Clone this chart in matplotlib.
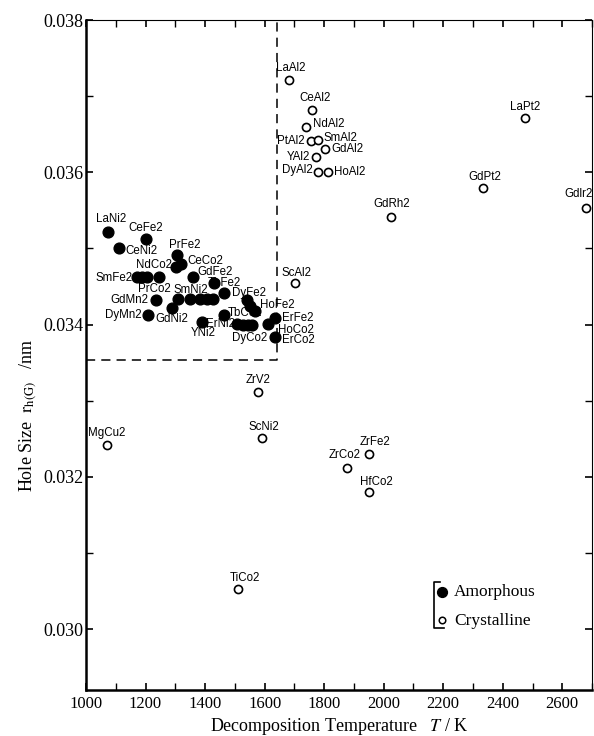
import matplotlib

matplotlib.use('agg')
import matplotlib.pyplot as plt
from matplotlib.ticker import MultipleLocator, FormatStrFormatter

# amorphous alloys (filled), T in K, r in nm
amo_names = ['LaNi2', 'CeFe2', 'CeNi2', 'PrFe2', 'CeCo2', 'NdCo2', 'SmFe2', '', '',
             'PrCo2', 'GdFe2', 'TbFe2', 'DyFe2', 'GdMn2', 'SmNi2', '', '', '', '',
             'DyMn2', 'GdNi2', 'YNi2', 'TbCo2', '', '', 'HoFe2', 'ErNi2', '', '',
             'DyCo2', 'HoCo2', 'ErFe2', 'ErCo2']
amo_T = [1074, 1202, 1111, 1306, 1319, 1302, 1171, 1188, 1205,
         1245, 1360, 1430, 1464, 1235, 1309, 1350, 1383, 1407, 1427,
         1208, 1289, 1390, 1464, 1541, 1551, 1568, 1508, 1528, 1544,
         1558, 1612, 1635, 1635]
amo_r = [0.03522, 0.03513, 0.03500, 0.03492, 0.03480, 0.03476, 0.03462, 0.03462, 0.03462,
         0.03463, 0.03462, 0.03454, 0.03442, 0.03432, 0.03433, 0.03433, 0.03433, 0.03433, 0.03433,
         0.03413, 0.03422, 0.03403, 0.03413, 0.03432, 0.03425, 0.03418, 0.03401, 0.03400, 0.03400,
         0.03400, 0.03401, 0.03409, 0.03383]

# crystalline compounds (open)
cry_names = ['LaAl2', 'CeAl2', 'NdAl2', 'PtAl2', 'SmAl2', 'GdAl2', 'YAl2', 'DyAl2', 'HoAl2',
             'LaPt2', 'GdPt2', 'GdRh2', 'Gdlr2', 'ScAl2', 'ZrV2', 'ScNi2', 'ZrFe2', 'ZrCo2',
             'HfCo2', 'TiCo2', 'MgCu2']
cry_T = [1682, 1760, 1739, 1756, 1780, 1803, 1773, 1780, 1813,
         2475, 2334, 2025, 2681, 1702, 1578, 1592, 1951, 1877,
         1951, 1511, 1071]
cry_r = [0.03721, 0.03682, 0.03659, 0.03641, 0.03643, 0.03630, 0.03620, 0.03600, 0.03600,
         0.03671, 0.03580, 0.03541, 0.03553, 0.03454, 0.03311, 0.03251, 0.03230, 0.03212,
         0.03180, 0.03053, 0.03242]

# boundary of the amorphous-forming region
bound_T = 1640
bound_r = 0.03353

# label placement: (dx, dy in pixels, horizontal alignment)
amo_lab = {
    'LaNi2': (3, 13, 'center'), 'CeFe2': (0, 11, 'center'), 'CeNi2': (6, -3, 'left'),
    'PrFe2': (8, 10, 'center'), 'CeCo2': (6, 3, 'left'), 'NdCo2': (-4, 2, 'right'),
    'SmFe2': (-4, -1, 'right'), 'PrCo2': (-5, -12, 'center'), 'GdFe2': (4, 5, 'left'),
    'TbFe2': (-6, 0, 'left'), 'DyFe2': (8, 0, 'left'), 'GdMn2': (-8, 0, 'right'),
    'SmNi2': (13, 9, 'center'), 'DyMn2': (-6, 0, 'right'), 'GdNi2': (0, -11, 'center'),
    'YNi2': (1, -11, 'center'), 'TbCo2': (4, 2, 'left'), 'HoFe2': (5, 6, 'left'),
    'ErNi2': (-2, 0, 'right'), 'DyCo2': (-2, -13, 'center'), 'HoCo2': (10, -6, 'left'),
    'ErFe2': (7, 0, 'left'), 'ErCo2': (7, -3, 'left'),
}
cry_lab = {
    'LaAl2': (-13, 12, 'left'), 'CeAl2': (-13, 12, 'left'), 'NdAl2': (7, 3, 'left'),
    'PtAl2': (-6, 0, 'right'), 'SmAl2': (5, 2, 'left'), 'GdAl2': (6, 0, 'left'),
    'YAl2': (-6, 0, 'right'), 'DyAl2': (-5, 2, 'right'), 'HoAl2': (6, 0, 'left'),
    'LaPt2': (0, 11, 'center'), 'GdPt2': (2, 11, 'center'), 'GdRh2': (1, 13, 'center'),
    'Gdlr2': (6, 14, 'right'), 'ScAl2': (2, 10, 'center'), 'ZrV2': (0, 12, 'center'),
    'ScNi2': (2, 11, 'center'), 'ZrFe2': (6, 12, 'center'), 'ZrCo2': (-2, 13, 'center'),
    'HfCo2': (7, 10, 'center'), 'TiCo2': (7, 11, 'center'), 'MgCu2': (0, 12, 'center'),
}

serif = 'Liberation Serif'
sans = 'Liberation Sans'
plt.rcParams['mathtext.fontset'] = 'stix'

fig = plt.figure(figsize=(5.94, 7.36), dpi=100)
ax = fig.add_axes([0.1448, 0.0625, 0.8519, 0.9103])

ax.plot([1000, bound_T, bound_T], [bound_r, bound_r, 0.038], color='black',
        linestyle=(0, (6, 4)), linewidth=1.1, zorder=1)

ax.scatter(amo_T, amo_r, s=60, color='black', zorder=3, clip_on=False)
ax.scatter(cry_T, cry_r, s=34, facecolors='white', edgecolors='black',
           linewidths=1.2, zorder=3, clip_on=False)

for name, t, r in zip(amo_names, amo_T, amo_r):
    if name in amo_lab:
        dx, dy, ha = amo_lab[name]
        ax.annotate(name, (t, r), xytext=(dx, dy), textcoords='offset pixels',
                    ha=ha, va='center', fontsize=8.3, family=sans, zorder=4)
for name, t, r in zip(cry_names, cry_T, cry_r):
    dx, dy, ha = cry_lab[name]
    ax.annotate(name, (t, r), xytext=(dx, dy), textcoords='offset pixels',
                ha=ha, va='center', fontsize=8.3, family=sans, zorder=4)

ax.set_xlim(1000, 2700)
ax.set_ylim(0.0292, 0.038)
ax.xaxis.set_major_locator(MultipleLocator(200))
ax.xaxis.set_minor_locator(MultipleLocator(100))
ax.yaxis.set_major_locator(MultipleLocator(0.002))
ax.yaxis.set_minor_locator(MultipleLocator(0.001))
ax.yaxis.set_major_formatter(FormatStrFormatter('%.3f'))
ax.tick_params(which='both', direction='in', top=True, right=True)
ax.tick_params(which='major', length=5, width=1.2)
ax.tick_params(which='minor', length=5, width=1.0)
ax.tick_params(axis='x', labelsize=12, pad=4)
ax.tick_params(axis='y', labelsize=13, pad=2)
ax.set_xticks([1000, 1200, 1400, 1600, 1800, 2000, 2200, 2400, 2600])
for lab in ax.get_xticklabels() + ax.get_yticklabels():
    lab.set_family(serif)

ax.spines['left'].set_linewidth(1.8)
ax.spines['bottom'].set_linewidth(1.8)
ax.spines['top'].set_linewidth(0.8)
ax.spines['right'].set_linewidth(0.8)

ax.set_xlabel(r'Decomposition Temperature   $T$ / K', fontsize=13, family=serif,
              labelpad=3)
ax.set_ylabel(r'Hole Size  $\mathrm{r}_{\mathrm{h(G)}}$   /nm', fontsize=13,
              family=serif)
ax.yaxis.set_label_coords(-0.093, 0.41)

# legend drawn by hand
tr = ax.transAxes
ax.plot([0.699, 0.688, 0.688, 0.708], [0.161, 0.161, 0.093, 0.093], color='black',
        linewidth=1.2, transform=tr, clip_on=False)
ax.scatter([0.703], [0.146], s=50, color='black', transform=tr)
ax.scatter([0.703], [0.104], s=22, facecolors='white', edgecolors='black',
           linewidths=1.1, transform=tr)
ax.text(0.727, 0.146, 'Amorphous', transform=tr, fontsize=12.5, family=serif, va='center')
ax.text(0.727, 0.103, 'Crystalline', transform=tr, fontsize=12.5, family=serif, va='center')

fig.savefig('out.png', dpi=100)
